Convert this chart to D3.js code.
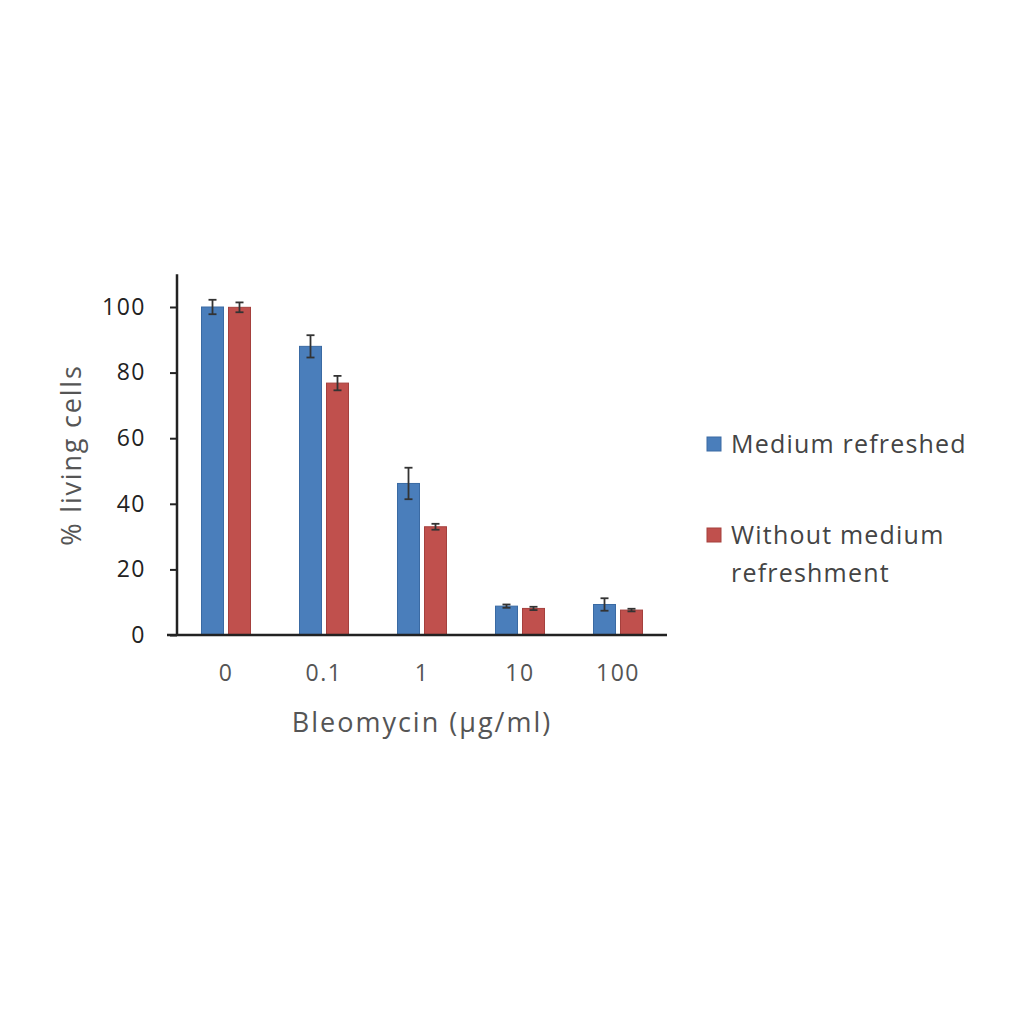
<!DOCTYPE html>
<html>
<head>
<meta charset="utf-8">
<script src="https://cdn.jsdelivr.net/npm/d3@7"></script>
<style>
  body { margin: 0; background: #fff; }
  text { font-family: "Open Sans", Lato, sans-serif; }
</style>
</head>
<body>
<svg width="1024" height="1024"></svg>
<script>
// data
const doses = ["0", "0.1", "1", "10", "100"];
const seriesNames = ["Medium refreshed", "Without medium refreshment"];
const refreshed = [100, 88, 46.2, 8.8, 9.3];
const refreshedErr = [2.2, 3.4, 4.8, 0.5, 1.9];
const notRefreshed = [99.9, 76.8, 33, 8.1, 7.6];
const notRefreshedErr = [1.5, 2.2, 0.9, 0.5, 0.4];
const yTicks = [0, 20, 40, 60, 80, 100];

const colors = ["#4a7ebb", "#c0504d"];
const strokes = ["#3a6aa3", "#a5403d"];

const svg = d3.select("svg");

const x = d3.scaleBand().domain(doses).range([177, 667]);
const inner = d3.scaleBand().domain([0, 1]).range([0, 49]).paddingInner(0.185);
const y = d3.scaleLinear().domain([0, 100]).range([635, 307]);

const rows = [];
doses.forEach((d, i) => {
  rows.push({ dose: d, s: 0, v: refreshed[i], e: refreshedErr[i] });
  rows.push({ dose: d, s: 1, v: notRefreshed[i], e: notRefreshedErr[i] });
});

const barX = (r) => x(r.dose) + (x.bandwidth() - 49) / 2 + inner(r.s);

// bars
svg.append("g")
  .selectAll("rect")
  .data(rows)
  .join("rect")
  .attr("x", barX)
  .attr("y", (r) => y(r.v))
  .attr("width", inner.bandwidth())
  .attr("height", (r) => y(0) - y(r.v))
  .attr("fill", (r) => colors[r.s])
  .attr("stroke", (r) => strokes[r.s])
  .attr("stroke-width", 1);

// error bars
const eb = svg.append("g").attr("stroke", "#333").attr("stroke-width", 1.8);
rows.forEach((r) => {
  const cx = barX(r) + inner.bandwidth() / 2;
  eb.append("line").attr("x1", cx).attr("x2", cx).attr("y1", y(r.v - r.e)).attr("y2", y(r.v + r.e));
  eb.append("line").attr("x1", cx - 4).attr("x2", cx + 4).attr("y1", y(r.v + r.e)).attr("y2", y(r.v + r.e));
  eb.append("line").attr("x1", cx - 4).attr("x2", cx + 4).attr("y1", y(r.v - r.e)).attr("y2", y(r.v - r.e));
});

// y axis
const yAxis = svg.append("g")
  .attr("transform", "translate(177,0)")
  .call(d3.axisLeft(y).tickValues(yTicks).tickSize(7).tickPadding(24));
yAxis.select(".domain").attr("d", "M0," + y(110) + "V" + y(0)).attr("stroke", "#222").attr("stroke-width", 2.5);
yAxis.selectAll(".tick line").attr("stroke", "#222").attr("stroke-width", 2);
yAxis.selectAll(".tick text").attr("font-size", 23).attr("fill", "#222")
  .attr("letter-spacing", 1.5)
  .style("font-family", "'Open Sans', sans-serif");

// x axis
const xAxis = svg.append("g")
  .attr("transform", "translate(0," + y(0) + ")")
  .call(d3.axisBottom(x).tickSize(0).tickPadding(30));
xAxis.select(".domain").attr("d", "M167,0H667").attr("stroke", "#222").attr("stroke-width", 2.5);
xAxis.selectAll(".tick text").attr("font-size", 23).attr("fill", "#555")
  .attr("letter-spacing", 1.5)
  .style("font-family", "'Open Sans', sans-serif");

// axis titles
svg.append("text")
  .attr("x", 422).attr("y", 732)
  .attr("text-anchor", "middle")
  .attr("font-size", 27).attr("fill", "#555")
  .attr("letter-spacing", 2)
  .text("Bleomycin (\u00b5g/ml)");

svg.append("text")
  .attr("transform", "translate(81,455) rotate(-90)")
  .attr("text-anchor", "middle")
  .attr("font-size", 27).attr("fill", "#555")
  .attr("letter-spacing", 1.8)
  .text("% living cells");

// legend
const legend = [
  { c: 0, lines: ["Medium refreshed"], y: 444 },
  { c: 1, lines: ["Without medium", "refreshment"], y: 535 }
];
legend.forEach((l) => {
  svg.append("rect")
    .attr("x", 707).attr("y", l.y - 7).attr("width", 14).attr("height", 14)
    .attr("fill", colors[l.c]).attr("stroke", strokes[l.c]);
  l.lines.forEach((t, j) => {
    svg.append("text")
      .attr("x", 731).attr("y", l.y + 9 + j * 38)
      .attr("font-size", 25).attr("fill", "#444")
      .attr("letter-spacing", 1.2)
      .text(t);
  });
});
</script>
</body>
</html>
